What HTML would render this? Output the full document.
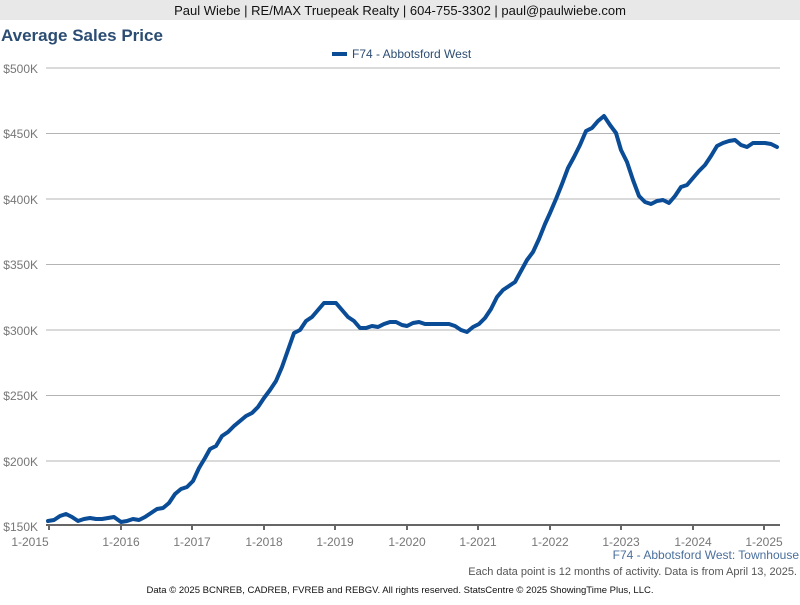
<!DOCTYPE html>
<html><head><meta charset="utf-8"><style>
body{margin:0;width:800px;height:600px;background:#fff;overflow:hidden;font-family:"Liberation Sans",Arial,sans-serif}
</style></head><body>
<svg width="800" height="600" xmlns="http://www.w3.org/2000/svg" font-family="Liberation Sans, Arial, sans-serif">
<rect x="0" y="0" width="800" height="20" fill="#e8e8e8"/>
<text x="400" y="15" text-anchor="middle" font-size="13" fill="#111">Paul Wiebe | RE/MAX Truepeak Realty | 604-755-3302 | paul@paulwiebe.com</text>
<text x="1" y="41" font-size="17" font-weight="bold" fill="#2c4d73">Average Sales Price</text>
<rect x="332" y="52" width="15" height="4" fill="#0a4c96"/>
<text x="352" y="58" font-size="12" fill="#2c4d73">F74 - Abbotsford West</text>
<g stroke="#b4b4b4" stroke-width="1">
<line x1="46" x2="780" y1="68" y2="68"/><line x1="46" x2="780" y1="133.5" y2="133.5"/>
<line x1="46" x2="780" y1="199" y2="199"/><line x1="46" x2="780" y1="264.5" y2="264.5"/>
<line x1="46" x2="780" y1="330" y2="330"/><line x1="46" x2="780" y1="395.5" y2="395.5"/>
<line x1="46" x2="780" y1="461" y2="461"/>
</g>
<line x1="46" x2="780" y1="525" y2="525" stroke="#666" stroke-width="2"/>
<g stroke="#666" stroke-width="2">
<line x1="49" x2="49" y1="525" y2="530"/><line x1="121" x2="121" y1="525" y2="530"/><line x1="192" x2="192" y1="525" y2="530"/><line x1="264" x2="264" y1="525" y2="530"/><line x1="335" x2="335" y1="525" y2="530"/><line x1="407" x2="407" y1="525" y2="530"/><line x1="478" x2="478" y1="525" y2="530"/><line x1="550" x2="550" y1="525" y2="530"/><line x1="621" x2="621" y1="525" y2="530"/><line x1="693" x2="693" y1="525" y2="530"/><line x1="764" x2="764" y1="525" y2="530"/>
</g>
<g font-size="12" fill="#777" text-anchor="end">
<text x="38" y="73">$500K</text><text x="38" y="138">$450K</text><text x="38" y="204">$400K</text><text x="38" y="269">$350K</text><text x="38" y="335">$300K</text><text x="38" y="400">$250K</text><text x="38" y="466">$200K</text><text x="38" y="531">$150K</text>
</g>
<g font-size="12" fill="#777" text-anchor="middle">
<text x="30" y="546">1-2015</text><text x="121" y="546">1-2016</text><text x="192" y="546">1-2017</text><text x="264" y="546">1-2018</text><text x="335" y="546">1-2019</text><text x="407" y="546">1-2020</text><text x="478" y="546">1-2021</text><text x="550" y="546">1-2022</text><text x="621" y="546">1-2023</text><text x="693" y="546">1-2024</text><text x="764" y="546">1-2025</text>
</g>
<polyline fill="none" stroke="#0a4c96" stroke-width="4" stroke-linejoin="round" stroke-linecap="round" points="48,521 54,520 60,516 66,514 72,517 78,521 84,519 90,518 96,519 102,519 108,518 114,517 121,522 127,521 133,519 139,520 145,517 151,513 157,509 163,508 169,503 175,494 181,489 187,487 193,481 199,468 205,458 210,449 216,446 222,436 228,432 234,426 240,421 246,416 252,413 258,407 264,398 270,390 276,381 282,367 288,350 294,333 300,330 306,321 312,317 318,310 324,303 330,303 336,303 342,310 348,317 354,321 360,328 366,328 372,326 378,327 384,324 390,322 396,322 402,325 407,326 413,323 419,322 425,324 431,324 437,324 443,324 449,324 455,326 461,330 467,332 473,327 479,324 485,318 491,309 497,297 503,290 509,286 515,282 521,271 527,260 533,252 539,239 545,224 550,213 556,199 562,184 568,168 574,157 580,145 586,131 592,128 598,121 604,116 610,125 616,133 621,150 627,162 633,180 639,196 645,202 651,204 657,201 663,200 669,203 675,196 681,187 687,185 693,178 699,171 705,165 711,156 717,146 723,143 729,141 735,140 741,145 747,147 753,143 759,143 765,143 771,144 777,147"/>
<text x="799" y="559" text-anchor="end" font-size="12" fill="#4a6f9c">F74 - Abbotsford West: Townhouse</text>
<text x="797" y="575" text-anchor="end" font-size="11" fill="#555">Each data point is 12 months of activity. Data is from April 13, 2025.</text>
<text x="400" y="593" text-anchor="middle" font-size="9.5" fill="#111">Data © 2025 BCNREB, CADREB, FVREB and REBGV. All rights reserved. StatsCentre © 2025 ShowingTime Plus, LLC.</text>
</svg>
</body></html>
